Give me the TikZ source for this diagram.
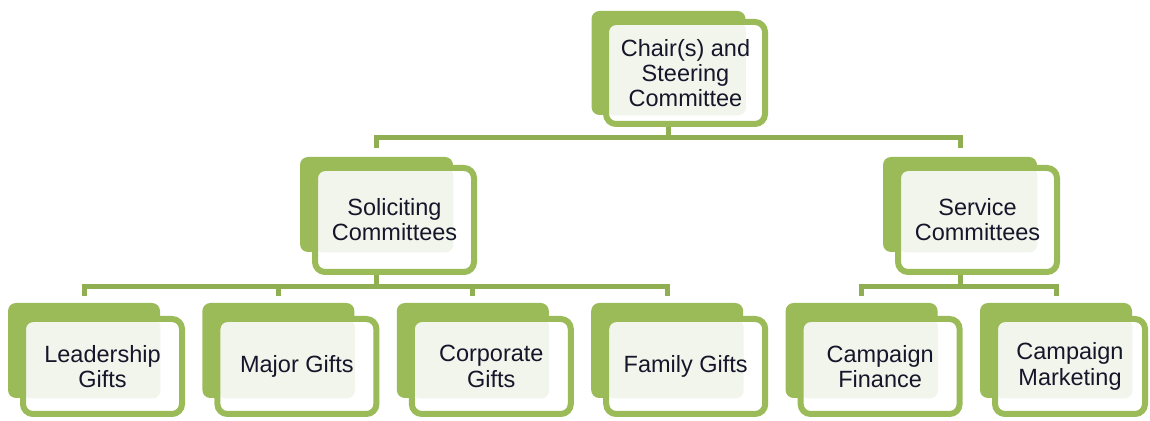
\documentclass[tikz,border=0pt]{standalone}
\usepackage{fontspec}
\setmainfont{Liberation Sans}
\usepackage{tikz}

\definecolor{boxgreen}{HTML}{9BBB59}
\definecolor{linkgreen}{HTML}{8FAF52}
\definecolor{boxlight}{HTML}{F2F5EC}
\definecolor{textblue}{HTML}{16162A}

\begin{document}
\begin{tikzpicture}[x=0.5pt, y=-0.5pt,
  back/.style={fill=boxgreen, rounded corners=4pt, inner sep=0pt,
    minimum width=76pt, minimum height=47.5pt},
  front/.style={draw=boxgreen, line width=3pt, fill=white, rounded corners=5pt,
    inner sep=0pt, minimum width=79.5pt, minimum height=47.5pt,
    align=center, text=textblue, font=\fontsize{11.75}{12.6}\selectfont,
    path picture={\fill[boxlight, rounded corners=4pt]
      (path picture bounding box.north west) rectangle (#1.south east);}},
  link/.style={draw=linkgreen, line width=2.5pt}]
  \useasboundingbox (0,0) rectangle (1150,421);

  % Spitze
  \node[back, minimum width=77pt, minimum height=52pt] (chairb) at (668.5,63) {};
  \node[front=chairb, minimum height=51pt] (chair) at (685.5,73) {Chair(s) and\\Steering\\Committee};

  % zweite Ebene
  \node[back, minimum width=76.5pt] (solicb) at (376.5,204.5) {};
  \node[front=solicb, minimum height=52pt] (solic) at (394.5,220) {Soliciting\\Committees};
  \node[back, minimum width=77pt] (servb) at (960,204.5) {};
  \node[front=servb, minimum height=52pt] (serv) at (977.5,220) {Service\\Committees};

  % untere Ebene
  \node[back] (leadb) at (84,350.5) {};
  \node[front=leadb] (lead) at (102.5,366.5) {Leadership\\Gifts};
  \node[back] (majorb) at (278.4,350.5) {};
  \node[front=majorb] (major) at (296.9,366.5) {Major Gifts};
  \node[back] (corpb) at (472.8,350.5) {};
  \node[front=corpb] (corp) at (491.3,366.5) {Corporate\\Gifts};
  \node[back] (famb) at (667.2,350.5) {};
  \node[front=famb] (fam) at (685.7,366.5) {Family Gifts};
  \node[back] (finb) at (861.6,350.5) {};
  \node[front=finb] (fin) at (880.1,366.5) {Campaign\\Finance};
  \node[back] (mktb) at (1056,350.5) {};
  \node[front=mktb, minimum width=75pt] (mkt) at (1070,366.5) {Campaign\\Marketing};

  % Verbindungen oben
  \coordinate (bustop) at (0,138);
  \draw[link] (chairb.south |- chair.south) -- (chairb.south |- bustop);
  \draw[link, shorten <=4.5pt, shorten >=4.5pt]
    (solicb.north) |- (chairb.south |- bustop) -| (servb.north);

  % Verbindungen unten
  \coordinate (buslow) at (0,287);
  \draw[link] (solicb.south |- solic.south) -- (solicb.south |- buslow);
  \draw[link, shorten <=3.5pt, shorten >=3.5pt]
    (leadb.north) |- (famb.north |- buslow) -- (famb.north);
  \draw[link, shorten >=3.5pt] (majorb.north |- buslow) -- (majorb.north);
  \draw[link, shorten >=3.5pt] (corpb.north |- buslow) -- (corpb.north);

  \draw[link] (servb.south |- serv.south) -- (servb.south |- buslow);
  \draw[link, shorten <=3.5pt, shorten >=3.5pt]
    (finb.north) |- (servb.south |- buslow) -| (mktb.north);
\end{tikzpicture}
\end{document}
